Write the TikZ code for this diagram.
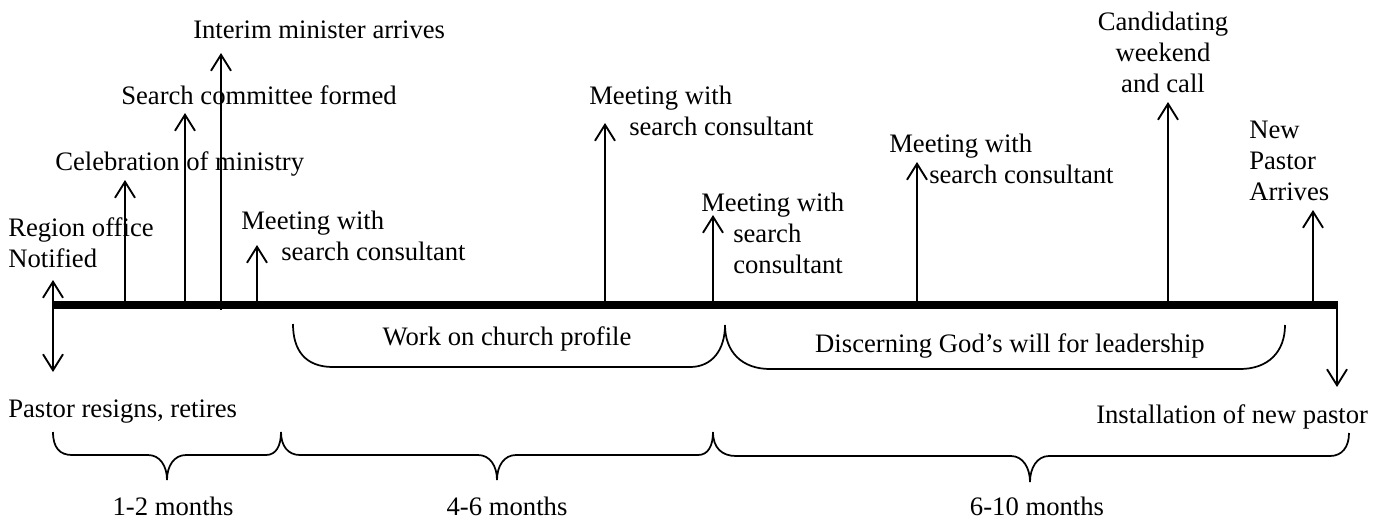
\documentclass[tikz,border=0pt]{standalone}
\usepackage{fontspec}
\setmainfont{Liberation Serif}
\usetikzlibrary{arrows.meta}

\begin{document}
\begin{tikzpicture}[x=0.75pt,y=0.75pt,yscale=-1,xscale=1,
  lbl/.style={inner sep=0pt,font=\fontsize{20}{23.25}\selectfont},
  evt/.style={line width=1.4pt,-{Straight Barb[length=12pt,width=15pt]}},
  brc/.style={line width=1.3pt}]
\useasboundingbox (0,0) rectangle (1380,519);

% Timeline
\coordinate (tlS) at (52,305);
\coordinate (tlE) at (1338,305);
\draw [line width=6pt] (tlS) -- (tlE) ;

% Text Node (base = last line)
\draw (8,267) node [lbl,anchor=base west,align=left] (region) {Region office\\Notified};
% Text Node
\draw (55,170) node [lbl,anchor=base west] (celeb) {Celebration of ministry};
% Text Node
\draw (121,104) node [lbl,anchor=base west] (search) {Search committee formed};
% Text Node
\draw (193,38) node [lbl,anchor=base west] (interim) {Interim minister arrives};
% Text Node
\draw (241,260) node [lbl,anchor=base west,align=left] (meetA) {Meeting with\\\hspace*{30pt}search consultant};
% Text Node
\draw (589,135) node [lbl,anchor=base west,align=left] (meetB) {Meeting with\\\hspace*{30pt}search consultant};
% Text Node
\draw (701,273) node [lbl,anchor=base west,align=left] (meetC) {Meeting with\\\hspace*{24pt}search\\\hspace*{24pt}consultant};
% Text Node
\draw (889,183) node [lbl,anchor=base west,align=left] (meetD) {Meeting with\\\hspace*{30pt}search consultant};
% Text Node
\draw (1163,92) node [lbl,anchor=base,align=center] (cand) {Candidating\\weekend\\and call};
% Text Node
\draw (1249,200) node [lbl,anchor=base west,align=left] (newp) {New\\Pastor\\Arrives};
% Text Node
\draw (8,417) node [lbl,anchor=base west] (resign) {Pastor resigns, retires};
% Text Node
\draw (1096,423) node [lbl,anchor=base west] (install) {Installation of new pastor};
% Text Node
\draw (507,345) node [lbl,anchor=base] (profile) {Work on church profile};
% Text Node
\draw (1010,352) node [lbl,anchor=base] (discern) {Discerning God’s will for leadership};
% Text Node
\draw (173,515) node [lbl,anchor=base] (mA) {1-2 months};
% Text Node
\draw (507,515) node [lbl,anchor=base] (mB) {4-6 months};
% Text Node
\draw (1037,515) node [lbl,anchor=base] (mC) {6-10 months};

% Event points and tips
\coordinate (e1) at (125,305);  \coordinate (p1) at (125,180);
\coordinate (e2) at (185,305);  \coordinate (p2) at (185,113);
\coordinate (e3) at (221,310);  \coordinate (p3) at (221,53);
\coordinate (e4) at (257,305);  \coordinate (p4) at (257,245);
\coordinate (e5) at (605,305);  \coordinate (p5) at (605,123);
\coordinate (e6) at (713,305);  \coordinate (p6) at (713,215);
\coordinate (e7) at (917,305);  \coordinate (p7) at (917,162);
\coordinate (e8) at (1168,305); \coordinate (p8) at (1168,102);
\coordinate (e9) at (1313,305); \coordinate (p9) at (1313,210);
\coordinate (lt) at (53,280);   \coordinate (lb) at (53,372);
\coordinate (re) at (1337,305); \coordinate (rb) at (1337,387);

% Connection
\draw [evt] (e1) -- (p1) ;
\draw [evt] (e2) -- (p2) ;
\draw [evt] (e3) -- (p3) ;
\draw [evt] (e4) -- (p4) ;
\draw [evt] (e5) -- (p5) ;
\draw [evt] (e6) -- (p6) ;
\draw [evt] (e7) -- (p7) ;
\draw [evt] (e8) -- (p8) ;
\draw [evt] (e9) -- (p9) ;
% Connection
\draw [evt,{Straight Barb[length=12pt,width=15pt]}-{Straight Barb[length=12pt,width=15pt]}] (lt) -- (lb) ;
\draw [evt] (re) -- (rb) ;

% Upper braces
\draw [brc] (293,324) .. controls (293,350) and (305,367) .. (333,367) -- (690,367) .. controls (712,367) and (725,350) .. (725,325) ;
\draw [brc] (725,325) .. controls (725,352) and (742,369) .. (770,369) -- (1240,369) .. controls (1268,369) and (1285,352) .. (1285,325) ;

% Lower braces
\draw [brc] (53,432) .. controls (53,448) and (60,455) .. (72,455) -- (148,455) .. controls (160,455) and (167,466) .. (167,480) .. controls (167,466) and (174,455) .. (186,455) -- (266,455) .. controls (276,455) and (281,446) .. (281,432) ;
\draw [brc] (281,432) .. controls (281,446) and (288,455) .. (300,455) -- (478,455) .. controls (490,455) and (497,466) .. (497,480) .. controls (497,466) and (504,455) .. (516,455) -- (698,455) .. controls (708,455) and (713,446) .. (713,432) ;
\draw [brc] (713,432) .. controls (713,448) and (722,456) .. (736,456) -- (1011,456) .. controls (1023,456) and (1030,468) .. (1030,482) .. controls (1030,468) and (1037,456) .. (1049,456) -- (1330,456) .. controls (1342,456) and (1349,447) .. (1349,433) ;

\end{tikzpicture}
\end{document}
